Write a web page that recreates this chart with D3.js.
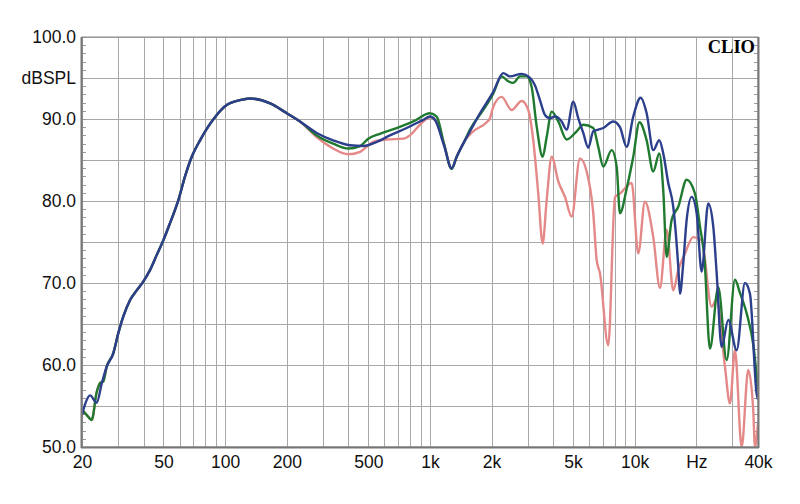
<!DOCTYPE html>
<html><head><meta charset="utf-8">
<script src="https://cdn.jsdelivr.net/npm/d3@7"></script>
<style>
body{margin:0;background:#fff;}
svg{display:block;}
</style></head>
<body>
<svg id="chart" width="800" height="504"></svg>
<script>
// ---- data ----
const xTickValues = [20,50,100,200,500,1000,2000,5000,10000,20000,40000];
const xTickLabels = ["20","50","100","200","500","1k","2k","5k","10k","Hz","40k"];
const yTickValues = [50,60,70,80,90,100];
const yTickLabels = ["50.0","60.0","70.0","80.0","90.0","100.0"];
const yUnitLabel = "dBSPL";
const brandLabel = "CLIO";

const blueFreq = [20,20.9,21.9,23.6,25.0,26.4,28.4,30.1,31.8,34.3,37.0,39.9,43.0,46.3,49.9,53.8,59.1,63.7,68.7,75.4,82.8,91.0,101.8,118,132,166,200,232,280,337,407,473,550,638,770,928,1001,1058,1171,1277,1351,1483,1569,1756,2038,2280,2458,2805,3022,3258,3446,3646,3857,4080,4398,4653,5012,5300,5608,5932,6276,6637,7022,7858,8472,9134,9839,10691,11437,12321,13178,13786,14582,15426,16318,16634,17260,17934,18970,20070,21230,22862,24186,25128,26578,28630,31464,34540,36538,39400,40000];
const blueDb   = [53.9,55.5,56.3,55.4,57.8,59.8,61.4,63.9,65.9,67.9,69.1,70.2,71.6,73.4,75.2,77.3,80.1,83.0,85.4,87.4,89.1,90.5,91.7,92.3,92.5,91.9,90.7,89.7,88.3,87.4,86.8,86.7,87.2,88.0,88.9,89.9,90.3,89.9,86.8,84.0,85.4,87.4,88.5,90.7,93.3,95.6,95.2,95.5,95.2,94.1,92.3,90.5,90.1,90.3,89.7,88.7,92.1,90.1,88.3,86.5,88.5,88.7,88.9,89.7,89.0,86.6,90.3,92.6,90.7,86.2,87.4,85.8,82.2,79.3,72.0,68.7,72.4,77.7,80.5,78.5,71.4,79.7,76.9,71.2,62.2,65.5,61.8,70.0,68.7,56.5,55.8];

const greenFreq = [20,20.3,21.1,22.3,23.6,24.5,25.4,26.4,28.4,30.1,31.8,34.3,37.0,39.9,43.0,46.3,49.9,53.8,59.1,63.7,68.7,75.4,82.8,91.0,101.8,118,132,166,200,232,280,337,399,456,500,570,688,829,1001,1079,1171,1277,1351,1483,1569,1822,2038,2240,2412,2552,2752,2968,3139,3321,3552,3716,3932,4234,4653,5206,5608,6276,6637,7022,7718,8164,8472,9134,9839,10550,11437,12321,13178,13786,14322,15150,16318,17934,19690,20828,21900,23304,25584,28114,30868,32652,35208,37920,40000];
const greenDb   = [54.0,54.3,53.9,53.3,56.7,57.8,58.0,59.8,61.4,63.9,65.9,67.9,69.1,70.2,71.6,73.4,75.2,77.3,80.1,83.0,85.4,87.4,89.1,90.5,91.7,92.3,92.5,91.9,90.7,89.7,88.0,87.0,86.4,86.7,87.6,88.2,88.9,89.7,90.7,90.3,87.0,83.9,85.4,87.4,88.7,91.1,93.1,95.2,94.6,94.4,95.2,95.2,93.9,89.1,85.4,87.8,90.9,89.7,87.5,88.5,89.3,88.9,86.6,84.2,86.2,84.2,78.5,81.5,85.4,89.6,87.4,83.6,85.8,81.3,73.2,77.7,79.3,82.6,80.9,76.9,73.0,62.0,69.5,60.6,70.4,68.8,66.3,62.5,57.0];

const redFreq = [20,20.3,21.1,22.3,23.6,24.5,25.4,26.4,28.4,30.1,31.8,34.3,37.0,39.9,43.0,46.3,49.9,53.8,59.1,63.7,68.7,75.4,82.8,91.0,101.8,118,132,166,200,232,280,337,399,456,529,615,741,799,894,1001,1058,1171,1277,1351,1483,1628,1893,1964,2038,2240,2506,2805,3022,3196,3381,3552,3716,3932,4234,4565,4922,5404,5826,6276,6520,6766,7428,8010,8472,9663,10408,11220,12321,13284,14322,15426,16318,17594,19316,21230,23754,25128,27582,29182,30868,33282,35846,37920,38652,40000];
const redDb   = [54.0,54.3,53.9,53.3,56.7,57.8,58.0,59.8,61.4,63.9,65.9,67.9,69.1,70.2,71.6,73.4,75.2,77.3,80.1,83.0,85.4,87.4,89.1,90.5,91.7,92.3,92.5,91.9,90.7,89.7,87.8,86.4,85.7,86.0,87.2,87.5,87.6,88.0,89.3,90.2,89.9,87.0,84.0,85.4,87.4,88.5,89.6,90.1,91.5,92.7,91.1,92.2,91.1,87.4,80.9,74.8,80.1,85.4,82.4,80.5,78.1,85.2,83.6,78.5,72.8,71.2,62.4,80.5,80.9,82.2,73.6,79.9,75.6,69.4,76.5,69.1,71.6,73.6,75.6,75.2,67.1,68.0,59.8,55.3,61.8,50.0,59.4,54.5,50.0,52.9];

const seriesColors = {red:"#e48888", green:"#1f7a30", blue:"#2c3f8c"};

// ---- layout ----
const svg = d3.select("#chart");
const L = 82, R = 758, T = 37, B = 447;
const FONT = "'Liberation Sans', Arial, sans-serif";
const x = d3.scaleLog().domain([20,40000]).range([L,R]);
const y = d3.scaleLinear().domain([50,100]).range([B,T]);

// grid
const vGrid = [];
[10,100,1000,10000].forEach(dec => { for (let k=1;k<=9;k++){ const v=dec*k; if(v>=20 && v<=40000) vGrid.push(v);} });
const uniq = Array.from(new Set(vGrid)).sort((a,b)=>a-b);
const grid = svg.append("g");
grid.selectAll("line.v").data(uniq).join("line")
  .attr("x1",d=>Math.round(x(d))+0.5).attr("x2",d=>Math.round(x(d))+0.5)
  .attr("y1",T).attr("y2",B).attr("stroke","#a8a8a8").attr("stroke-width",1);
grid.selectAll("line.h").data(d3.range(50,101,5)).join("line")
  .attr("x1",L).attr("x2",R)
  .attr("y1",d=>Math.round(y(d))+0.5).attr("y2",d=>Math.round(y(d))+0.5)
  .attr("stroke","#a8a8a8").attr("stroke-width",1);

// minor y ticks (1 dB)
const minor = d3.range(50,101,1);
grid.selectAll("line.ml").data(minor).join("line")
  .attr("x1",L).attr("x2",L+4).attr("y1",d=>Math.round(y(d))+0.5).attr("y2",d=>Math.round(y(d))+0.5)
  .attr("stroke","#9a9a9a");
grid.selectAll("line.mr").data(minor).join("line")
  .attr("x1",R-4).attr("x2",R).attr("y1",d=>Math.round(y(d))+0.5).attr("y2",d=>Math.round(y(d))+0.5)
  .attr("stroke","#9a9a9a");

// curves
const line = d3.line().x(d=>x(d[0])).y(d=>y(d[1])).curve(d3.curveMonotoneX);
svg.append("clipPath").attr("id","clip").append("rect")
  .attr("x",L).attr("y",T).attr("width",R-L).attr("height",B-T);
const curves = svg.append("g").attr("clip-path","url(#clip)");
const mk = (f,v)=>f.map((d,i)=>[d,v[i]]);
[[redFreq,redDb,seriesColors.red],[greenFreq,greenDb,seriesColors.green],[blueFreq,blueDb,seriesColors.blue]]
  .forEach(([f,v,c])=>{
    curves.append("path").attr("d",line(mk(f,v))).attr("fill","none")
      .attr("stroke",c).attr("stroke-width",2.4).attr("stroke-linejoin","round");
  });

// frame
svg.append("rect").attr("x",L).attr("y",T).attr("width",R-L).attr("height",B-T)
  .attr("fill","none").attr("stroke","#8a8a8a").attr("stroke-width",1);
svg.append("line").attr("x1",L-0.5).attr("x2",L-0.5).attr("y1",T).attr("y2",B+1).attr("stroke","#777").attr("stroke-width",2);
svg.append("line").attr("x1",L-1).attr("x2",R+1).attr("y1",B+0.5).attr("y2",B+0.5).attr("stroke","#777").attr("stroke-width",2);
svg.append("line").attr("x1",R+0.5).attr("x2",R+0.5).attr("y1",T).attr("y2",B+1).attr("stroke","#777").attr("stroke-width",2);

// axes
const yAxis = d3.axisLeft(y).tickValues(yTickValues).tickFormat((d,i)=>yTickLabels[i]).tickSize(0).tickPadding(5);
const ya = svg.append("g").attr("transform",`translate(${L-1},0)`).call(yAxis);
ya.select(".domain").remove();
ya.selectAll("text").attr("font-family",FONT).attr("font-size",17.5).attr("fill","#111");

const xAxis = d3.axisBottom(x).tickValues(xTickValues).tickFormat((d,i)=>xTickLabels[i]).tickSize(0).tickPadding(9);
const xa = svg.append("g").attr("transform",`translate(0,${B})`).call(xAxis);
xa.select(".domain").remove();
xa.selectAll("text").attr("font-family",FONT).attr("font-size",17.5).attr("fill","#111");

svg.append("text").attr("x",L-6).attr("y",y(95)).attr("dy","0.35em").attr("text-anchor","end")
  .attr("font-family",FONT).attr("font-size",17.5).attr("fill","#111").text(yUnitLabel);

svg.append("text").attr("x",R-3).attr("y",T+16).attr("text-anchor","end")
  .attr("font-family","'Liberation Serif', 'Times New Roman', serif").attr("font-weight","bold")
  .attr("font-size",18.5).attr("fill","#000").text(brandLabel);
</script>
</body></html>
